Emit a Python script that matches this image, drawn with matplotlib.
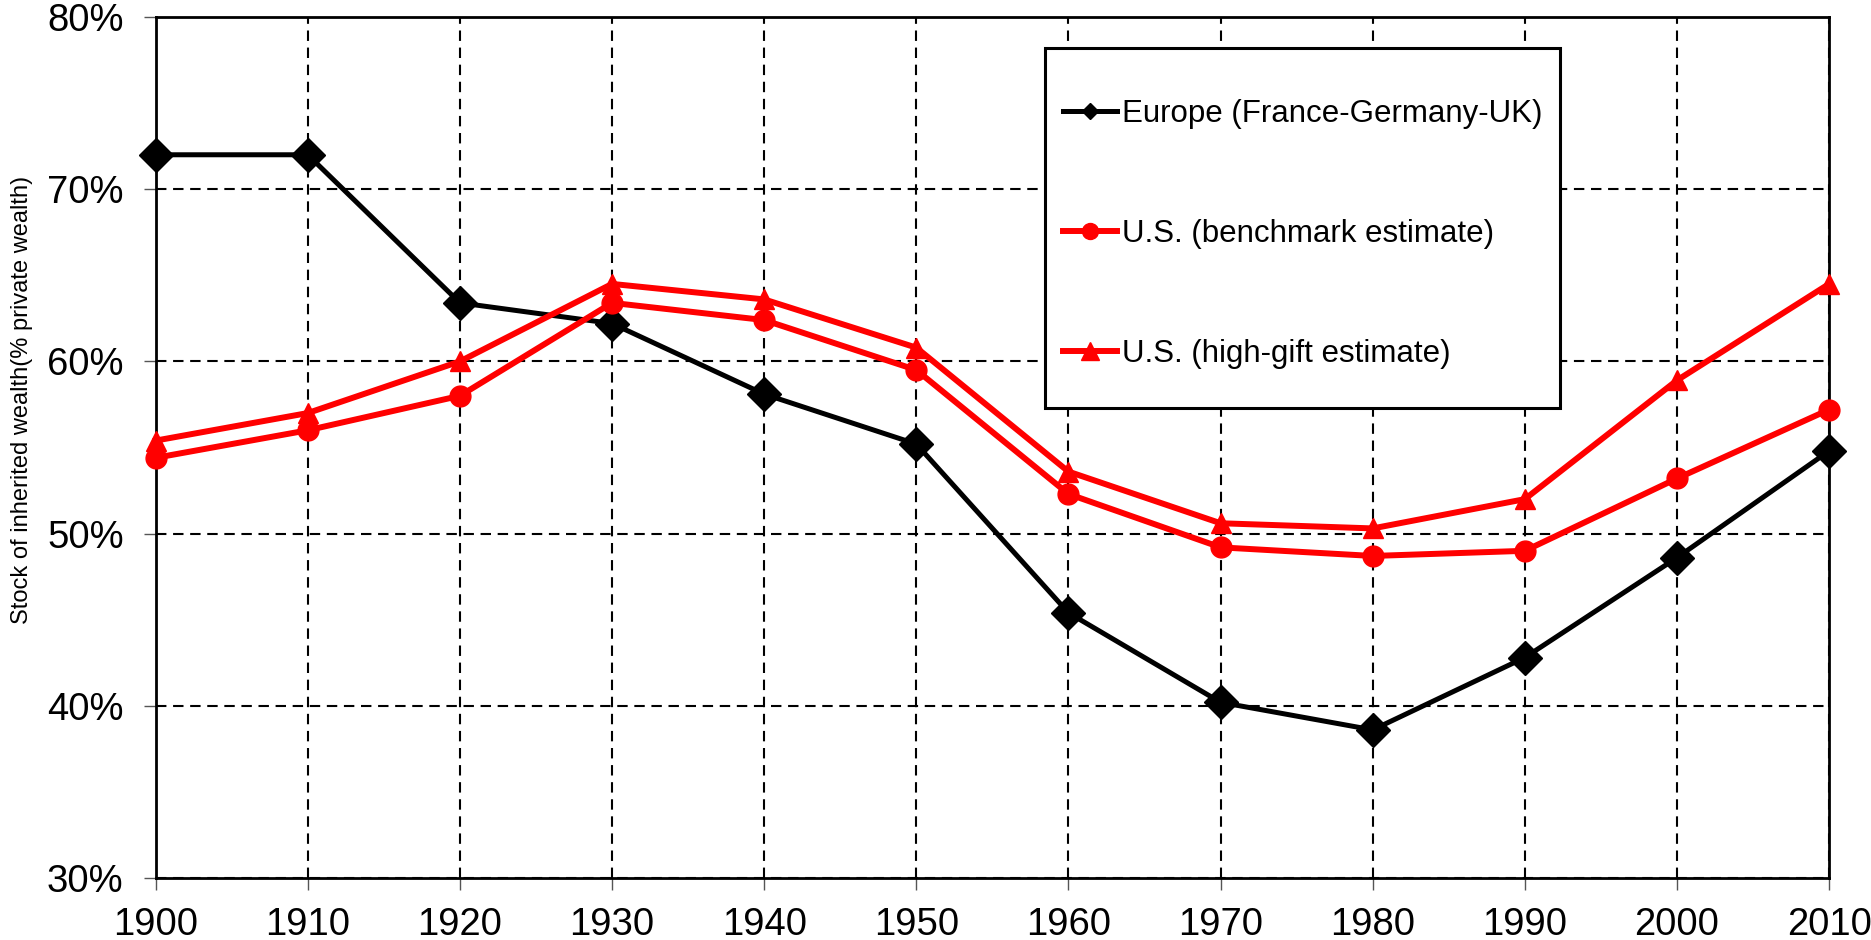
import matplotlib
matplotlib.use("Agg")
import matplotlib.pyplot as plt
from matplotlib.lines import Line2D
from matplotlib.patches import Rectangle
from matplotlib.ticker import FuncFormatter

years = [1900, 1910, 1920, 1930, 1940, 1950, 1960, 1970, 1980, 1990, 2000, 2010]
europe = [72.0, 72.0, 63.4, 62.2, 58.1, 55.2, 45.4, 40.2, 38.6, 42.8, 48.6, 54.8]
us_benchmark = [54.4, 56.0, 58.0, 63.4, 62.4, 59.5, 52.3, 49.2, 48.7, 49.0, 53.2, 57.2]
us_highgift = [55.4, 57.0, 60.0, 64.5, 63.6, 60.8, 53.6, 50.6, 50.3, 52.0, 58.9, 64.5]
labels = ["Europe (France-Germany-UK)", "U.S. (benchmark estimate)", "U.S. (high-gift estimate)"]
y_ticks = [30, 40, 50, 60, 70, 80]
ylabel = "Stock of inherited wealth(% private wealth)"

plt.rcParams['font.family'] = ['Liberation Sans', 'DejaVu Sans']

fig = plt.figure(figsize=(18.71, 9.40), dpi=100)
ax = fig.add_axes([0.0832, 0.0660, 0.8944, 0.9159])

ax.plot(years, europe, color='black', lw=3.6, marker='D', ms=17, clip_on=False, zorder=4)
ax.plot(years, us_benchmark, color='#ff0000', lw=4.3, marker='o', ms=15, clip_on=False, zorder=5)
ax.plot(years, us_highgift, color='#ff0000', lw=4.3, marker='^', ms=15, clip_on=False, zorder=5)

ax.set_xlim(1900, 2010)
ax.set_ylim(30, 80)
ax.set_xticks(years)
ax.set_yticks(y_ticks)
ax.yaxis.set_major_formatter(FuncFormatter(lambda v, p: f"{int(v)}%"))
ax.grid(True, color='black', ls=(0, (5, 3.2)), lw=1.5)
ax.set_axisbelow(True)
for s in ax.spines.values():
    s.set_linewidth(2.0)
    s.set_color('black')
ax.tick_params(axis='both', direction='out', length=8.6, width=1, color='#555555',
               labelsize=27.5, pad=14.5)
ax.tick_params(axis='x', pad=12.5)
ax.set_ylabel(ylabel, fontsize=17, family=['Liberation Sans Narrow', 'Liberation Sans', 'DejaVu Sans'])
ax.yaxis.set_label_coords(-0.0733, 0.555)

# legend box
ax.add_patch(Rectangle((0.5315, 0.5459), 0.3078, 0.4181, transform=ax.transAxes,
                       facecolor='white', edgecolor='black', lw=2.2, zorder=6))
handles = [
    Line2D([], [], color='black', lw=3.6, marker='D', ms=8),
    Line2D([], [], color='#ff0000', lw=4.3, marker='o', ms=11.5),
    Line2D([], [], color='#ff0000', lw=4.3, marker='^', ms=13),
]
leg = ax.legend(handles, labels, loc='upper left', bbox_to_anchor=(0.5423, 0.9053),
                frameon=False, fontsize=22.5, handlelength=1.73, handletextpad=0.16,
                labelspacing=2.88, borderaxespad=0, borderpad=0)
leg.set_zorder(7)

fig.savefig("out.png", dpi=100)
